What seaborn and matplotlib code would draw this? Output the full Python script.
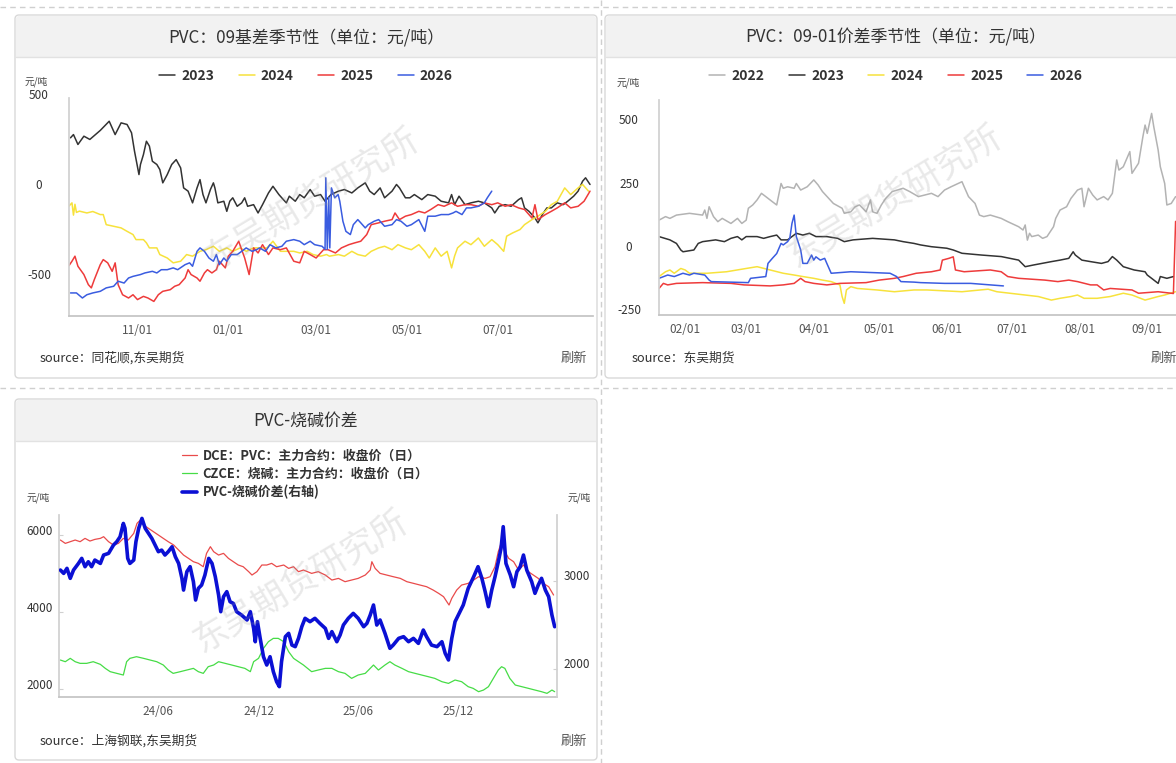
import numpy as np
import pandas as pd
import matplotlib
matplotlib.use("Agg")
import matplotlib.pyplot as plt
import matplotlib.transforms as mtransforms
from matplotlib.patches import FancyBboxPatch, Rectangle
import seaborn as sns

sns.set_theme(style="white")
plt.rcParams["font.family"] = ["Noto Sans CJK SC", "DejaVu Sans"]
plt.rcParams["axes.unicode_minus"] = False

W, H = 1176, 763

# ---------------- panel 1: PVC 09 basis seasonality (days from 09-16) ----------------
b23_day = [1, 3, 6, 10, 14, 21, 27, 31, 35, 39, 42, 44, 47, 48, 50, 52, 54, 56, 59, 61,
           63, 66, 69, 72, 75, 77, 80, 83, 86, 88, 90, 92, 95, 97, 98, 100, 104, 106, 108, 110,
           113, 116, 118, 120, 124, 127, 130, 134, 137, 141, 144, 146, 148, 152, 155, 158, 162, 165, 169, 172,
           176, 181, 185, 190, 194, 199, 202, 205, 209, 212, 217, 220, 222, 226, 229, 232, 237, 241, 246, 250,
           255, 257, 259, 262, 266, 270, 275, 279, 284, 286, 289, 293, 297, 302, 304, 306, 309, 313, 315, 318,
           321, 324, 328, 332, 335, 339, 342, 345, 347, 350]
b23 = [289, 307, 252, 298, 280, 330, 381, 307, 372, 363, 317, 215, 85, 141, 196, 270, 243, 159, 141, 113,
       39, 85, 141, 168, 122, 11, -7, -72, 11, 57, -26, -72, 2, 39, 11, -72, -63, -119, -63, -44,
       -91, -72, -44, -91, -82, -128, -82, -17, 20, -26, -54, -72, -35, -63, -26, -44, 2, -35, -26, -63,
       -26, -7, 2, -17, 11, 39, -7, -26, 11, -44, -7, 30, 11, -44, -44, -26, -54, -26, -35, -63,
       -72, -26, -82, -35, -82, -72, -63, -72, -100, -128, -91, -82, -91, -54, -44, -100, -119, -156, -183, -137,
       -100, -100, -72, -82, -63, -35, -7, 48, 67, 30]
b24_day = [0, 2, 3, 4, 5, 7, 12, 16, 21, 23, 25, 30, 35, 39, 43, 45, 50, 52, 54, 59,
           61, 66, 70, 75, 79, 83, 88, 92, 97, 101, 106, 110, 115, 119, 124, 128, 133, 137, 142, 146,
           151, 155, 160, 164, 169, 173, 175, 181, 185, 190, 194, 199, 203, 208, 212, 217, 221, 226, 230, 235,
           239, 242, 246, 250, 254, 257, 259, 261, 266, 270, 275, 279, 284, 288, 292, 294, 298, 303, 306, 311,
           315, 320, 324, 328, 333, 337, 342, 345, 349]
b24 = [-90, -72, -140, -80, -125, -118, -128, -120, -137, -137, -193, -202, -211, -230, -248, -276, -276, -294, -322, -322,
       -359, -378, -405, -396, -359, -368, -341, -332, -313, -341, -322, -341, -322, -341, -322, -322, -322, -285, -341, -341,
       -341, -350, -341, -359, -368, -359, -368, -359, -368, -341, -359, -368, -341, -322, -313, -332, -304, -322, -332, -304,
       -341, -378, -322, -368, -341, -433, -368, -322, -285, -304, -267, -313, -276, -304, -341, -257, -239, -220, -193, -165,
       -146, -119, -82, -63, 11, -26, 11, 30, -7]
b25_day = [0, 2, 4, 6, 10, 13, 15, 17, 21, 23, 26, 29, 31, 33, 36, 40, 43, 46, 50, 53,
           57, 60, 63, 68, 71, 74, 78, 80, 82, 86, 88, 91, 93, 96, 99, 101, 105, 107, 110, 114,
           116, 118, 121, 124, 127, 130, 134, 137, 142, 146, 151, 155, 158, 162, 166, 171, 174, 179, 183, 188,
           192, 196, 200, 203, 208, 212, 217, 219, 222, 226, 230, 235, 239, 243, 248, 252, 257, 261, 266, 270,
           275, 279, 284, 288, 293, 297, 302, 306, 311, 313, 315, 320, 324, 328, 333, 337, 342, 346, 350]
b25 = [-420, -396, -368, -424, -470, -526, -544, -498, -415, -387, -405, -452, -405, -526, -582, -600, -582, -609, -591, -600,
       -619, -582, -563, -554, -535, -526, -489, -443, -470, -489, -507, -461, -443, -461, -443, -396, -433, -368, -341, -285,
       -332, -378, -470, -322, -350, -304, -359, -322, -332, -322, -396, -405, -341, -359, -378, -332, -332, -350, -322, -304,
       -294, -285, -248, -193, -183, -174, -165, -128, -165, -146, -137, -119, -128, -109, -82, -91, -72, -91, -82, -82,
       -91, -72, -82, -72, -91, -82, -100, -109, -156, -82, -165, -137, -119, -100, -72, -100, -91, -63, -7]
b26_day = [1, 5, 9, 12, 16, 21, 25, 30, 33, 37, 40, 43, 48, 51, 56, 59, 62, 66, 70, 73,
           78, 81, 83, 86, 88, 91, 94, 97, 99, 101, 104, 106, 109, 113, 116, 119, 123, 126, 128, 132,
           135, 139, 143, 146, 151, 155, 158, 162, 165, 170, 172, 172.5, 173.5, 174.5, 175.2, 176.3, 178.5, 180.8, 181.9, 184,
           186, 189, 191, 194, 196, 199, 201, 205, 208, 212, 217, 220, 223, 227, 230, 235, 239, 241, 246, 250,
           255, 258, 260, 264, 267, 270, 275, 279, 281, 284]
b26 = [-572, -572, -600, -582, -572, -563, -544, -535, -507, -517, -489, -480, -470, -461, -452, -461, -443, -443, -433, -443,
       -415, -405, -424, -341, -322, -341, -378, -396, -359, -415, -378, -396, -359, -359, -341, -322, -341, -332, -322, -341,
       -304, -322, -313, -285, -276, -285, -304, -285, -304, -313, -330, 67, -330, -40, -322, 11, -44, -26, -63, -174,
       -230, -248, -193, -165, -183, -211, -193, -174, -165, -202, -193, -165, -174, -202, -193, -165, -230, -146, -146, -137,
       -137, -128, -119, -137, -100, -100, -91, -72, -44, -7]
basis_ticks = ["11/01", "01/01", "03/01", "05/01", "07/01"]

# ---------------- panel 2: PVC 09-01 spread seasonality (day of year) ----------------
sp22_day = [19, 22, 24, 27, 33, 39, 40, 41, 42, 44, 46, 48, 52, 55, 57, 59, 60, 62, 64, 66,
            68, 71, 73, 75, 76, 78, 81, 82, 84, 87, 90, 92, 94, 99, 103, 104, 107, 109, 111, 114,
            116, 117, 119, 121, 123, 126, 131, 134, 138, 144, 147, 150, 153, 158, 159, 161, 164, 166, 168, 171,
            176, 179, 184, 186, 187, 188, 189, 190, 193, 195, 197, 200, 201, 203, 206, 208, 211, 213, 214, 216,
            218, 220, 223, 225, 227, 229, 230, 232, 235, 236, 239, 241, 242, 243, 245, 246, 248, 249, 251, 252,
            254, 256]
sp22 = [125, 139, 132, 145, 152, 145, 165, 132, 178, 139, 119, 132, 112, 132, 112, 125, 172, 185, 205, 231,
        218, 198, 185, 270, 251, 257, 251, 270, 244, 257, 284, 264, 238, 191, 172, 152, 158, 178, 185, 158,
        205, 158, 152, 185, 211, 238, 251, 238, 218, 231, 218, 244, 257, 277, 257, 218, 191, 145, 139, 145,
        132, 119, 99, 86, 106, 46, 73, 60, 66, 53, 60, 99, 132, 165, 178, 211, 244, 251, 178, 251,
        224, 205, 218, 205, 231, 363, 323, 336, 396, 310, 350, 455, 501, 468, 547, 494, 402, 336, 270, 185,
        191, 218]
sp23_day = [19, 24, 27, 29, 30, 35, 37, 39, 45, 49, 52, 55, 57, 59, 64, 67, 70, 73, 75, 78,
            82, 85, 88, 91, 96, 101, 104, 108, 117, 127, 131, 136, 139, 144, 151, 154, 158, 167, 176, 180,
            184, 187, 191, 199, 203, 207, 209, 210, 213, 217, 222, 225, 227, 229, 232, 237, 242, 243, 245, 248,
            249, 252, 255]
sp23 = [60, 47, 33, 7, 0, 7, 33, 40, 47, 40, 53, 60, 47, 60, 60, 53, 60, 66, 47, 47,
        73, 66, 73, 60, 60, 53, 40, 47, 53, 47, 40, 33, 27, 20, 14, 7, -6, -13, -19, -26,
        -33, -59, -52, -39, -33, -26, 0, -13, -33, -39, -46, -39, -19, -33, -59, -72, -79, -92, -105, -125,
        -98, -105, -98]
sp24_day = [19, 22, 24, 26, 29, 31, 33, 41, 50, 59, 64, 70, 76, 81, 85, 90, 94, 98, 102, 103,
            104, 105, 107, 110, 119, 127, 136, 142, 158, 170, 174, 180, 187, 193, 199, 203, 208, 211, 214, 220,
            226, 232, 236, 242, 245, 248, 251, 256]
sp24 = [-98, -79, -72, -85, -66, -72, -85, -85, -79, -66, -59, -72, -85, -92, -98, -105, -112, -118, -131, -177,
        -204, -151, -138, -145, -151, -158, -151, -151, -158, -148, -158, -164, -171, -177, -191, -184, -177, -171, -184, -184,
        -177, -164, -171, -191, -184, -177, -171, -158]
sp25_day = [19, 21, 23, 27, 39, 52, 58, 70, 76, 81, 84, 86, 90, 96, 102, 114, 120, 127, 131, 137,
            144, 148, 149, 152, 154, 155, 159, 171, 176, 179, 184, 196, 202, 207, 211, 217, 220, 223, 226, 236,
            239, 248, 254, 255, 256]
sp25 = [-145, -125, -131, -125, -122, -125, -131, -135, -131, -125, -105, -118, -125, -131, -125, -122, -112, -105, -98, -85,
        -79, -72, -33, -26, -20, -72, -79, -72, -79, -98, -105, -112, -118, -112, -118, -131, -131, -151, -145, -151,
        -164, -158, -164, -165, 120]
sp26_day = [19, 23, 26, 30, 33, 35, 40, 42, 43, 60, 61, 68, 69, 71, 73, 75, 76, 78, 79, 80,
            81, 82, 84, 85, 87, 89, 90, 91, 93, 95, 96, 98, 107, 125, 128, 130, 136, 139, 150, 162,
            168, 177]
sp26 = [-105, -92, -98, -85, -92, -85, -92, -112, -118, -122, -105, -98, -46, -26, -7, 33, 27, 40, 53, 112,
        145, 60, 7, -46, -46, -13, -33, -20, -33, -26, -46, -85, -79, -85, -98, -118, -120, -122, -125, -125,
        -129, -135]
spread_ticks = ["02/01", "03/01", "04/01", "05/01", "06/01", "07/01", "08/01", "09/01"]

# ---------------- panel 3: PVC vs caustic soda (days from 2023-12-03) ----------------
pc_start = pd.Timestamp("2023-12-03")
pvc_day = [2, 11, 20, 29, 38, 47, 56, 65, 75, 81, 90, 99, 108, 117, 126, 136, 142, 148, 154, 163,
           172, 181, 190, 199, 209, 218, 227, 236, 245, 254, 263, 269, 276, 282, 291, 300, 309, 318, 327, 336,
           346, 352, 361, 370, 379, 388, 397, 410, 419, 428, 437, 446, 461, 473, 486, 498, 510, 522, 534, 546,
           559, 568, 571, 577, 586, 598, 610, 623, 635, 647, 659, 671, 683, 693, 702, 708, 712, 717, 726, 735,
           747, 757, 766, 778, 787, 796, 802, 808, 814, 821, 830, 839, 848, 857, 866, 875, 884, 894, 903]
pvc_close = [5878, 5791, 5835, 5878, 5835, 5921, 5852, 5895, 5921, 5965, 5835, 5748, 5791, 5921, 5878, 6051, 6311, 6397, 6268, 6181,
             6094, 6008, 5921, 5835, 5748, 5618, 5488, 5402, 5315, 5272, 5185, 5532, 5705, 5575, 5488, 5532, 5402, 5315, 5229, 5185,
             5056, 4969, 5056, 5229, 5229, 5272, 5185, 5229, 5142, 5185, 5056, 5099, 5012, 5056, 4969, 4839, 4882, 4796, 4839, 4882,
             4969, 5099, 5315, 5142, 5012, 4969, 4926, 4882, 4796, 4753, 4709, 4666, 4579, 4493, 4406, 4276, 4190, 4363, 4579, 4709,
             4753, 4839, 4926, 4882, 4926, 5185, 5575, 5835, 5575, 5402, 5315, 5099, 5229, 5056, 4969, 4882, 4753, 4666, 4450]
naoh_day = [2, 11, 20, 29, 38, 50, 62, 75, 84, 93, 105, 117, 123, 129, 141, 154, 166, 178, 190, 199,
            208, 221, 233, 245, 254, 263, 272, 282, 291, 303, 315, 327, 339, 349, 355, 364, 373, 382, 391, 400,
            410, 419, 428, 437, 446, 461, 473, 486, 498, 510, 522, 534, 546, 559, 568, 574, 583, 595, 604, 613,
            626, 638, 650, 662, 674, 686, 699, 711, 723, 735, 747, 756, 766, 775, 784, 793, 802, 808, 814, 823,
            833, 845, 857, 869, 881, 891, 900, 905]
naoh_close = [2761, 2718, 2805, 2718, 2675, 2675, 2718, 2649, 2545, 2459, 2415, 2372, 2718, 2805, 2848, 2805, 2761, 2718, 2632, 2502,
              2415, 2459, 2502, 2545, 2459, 2415, 2588, 2632, 2718, 2675, 2632, 2588, 2545, 2459, 2718, 2805, 3064, 3238, 3324, 3324,
              3238, 2978, 2805, 2718, 2632, 2459, 2502, 2545, 2545, 2459, 2415, 2285, 2372, 2415, 2545, 2632, 2502, 2632, 2718, 2632,
              2545, 2459, 2415, 2372, 2329, 2285, 2199, 2155, 2242, 2199, 2069, 2026, 1939, 1982, 2069, 2285, 2502, 2588, 2545, 2285,
              2112, 2069, 2026, 1982, 1939, 1896, 1982, 1939]
gap_day = [2, 8, 14, 20, 26, 35, 41, 47, 53, 59, 65, 75, 81, 90, 99, 105, 111, 117, 120, 125,
           129, 136, 140, 145, 151, 157, 163, 169, 175, 181, 187, 193, 199, 206, 212, 218, 224, 227, 233, 239,
           245, 249, 254, 260, 266, 273, 279, 285, 291, 295, 300, 306, 312, 318, 324, 333, 343, 349, 355, 358,
           362, 367, 373, 379, 385, 391, 397, 402, 406, 413, 419, 425, 431, 437, 443, 449, 458, 467, 476, 486,
           492, 498, 507, 513, 519, 528, 537, 546, 556, 562, 568, 574, 580, 586, 595, 604, 610, 620, 629, 638,
           647, 656, 665, 671, 680, 690, 699, 705, 711, 717, 723, 729, 738, 747, 757, 765, 772, 778, 784, 790,
           796, 802, 807, 811, 816, 824, 830, 836, 842, 848, 854, 863, 869, 875, 881, 888, 894, 900, 905]
gap_value = [3125, 3087, 3144, 3031, 3125, 3200, 3257, 3163, 3219, 3163, 3238, 3200, 3295, 3314, 3408, 3446, 3502, 3653, 3597, 3257,
             3200, 3238, 3446, 3597, 3710, 3597, 3540, 3484, 3408, 3333, 3351, 3295, 3333, 3389, 3276, 3200, 3031, 2898, 3106, 3163,
             2993, 2785, 2917, 2955, 3068, 3257, 3200, 3049, 2842, 2653, 2823, 2880, 2766, 2747, 2653, 2615, 2559, 2653, 2464, 2313,
             2540, 2351, 2143, 2049, 2143, 1974, 1860, 1804, 2087, 2370, 2408, 2275, 2257, 2351, 2483, 2578, 2540, 2578, 2521, 2464,
             2351, 2427, 2313, 2389, 2502, 2578, 2634, 2578, 2483, 2521, 2615, 2729, 2502, 2559, 2408, 2238, 2275, 2351, 2370, 2313,
             2351, 2294, 2445, 2370, 2275, 2257, 2313, 2181, 2106, 2351, 2540, 2615, 2729, 2917, 3049, 3163, 3031, 2880, 2710, 2898,
             3049, 3219, 3370, 3616, 3200, 3068, 2936, 3106, 3163, 3295, 3125, 2993, 2861, 2955, 3031, 2898, 2823, 2615, 2483]
pc_ticks = ["24/06", "24/12", "25/06", "25/12"]
pc_tick_dates = ["2024-06-01", "2024-12-01", "2025-06-01", "2025-12-01"]

col = {"2022": "#b3b3b3", "2023": "#333333", "2024": "#f7e23c",
       "2025": "#ee3b3b", "2026": "#3a5ce0"}

fig = plt.figure(figsize=(W / 100, H / 100), dpi=100)


def fx(x):
    return x / W


def fy(y):
    return 1 - y / H


def px_axes(x0, y0, x1, y1):
    return fig.add_axes([x0 / W, 1 - y1 / H, (x1 - x0) / W, (y1 - y0) / H])


# background layer in pixel coordinates
bg = fig.add_axes([0, 0, 1, 1], zorder=-5)
bg.set_xlim(0, W)
bg.set_ylim(H, 0)
bg.axis("off")

dash = (0, (4, 3))
bg.plot([0, W], [7, 7], color="#cfcfcf", lw=1, ls=dash)
bg.plot([0, W], [388, 388], color="#cfcfcf", lw=1, ls=dash)
bg.plot([601, 601], [0, H], color="#cfcfcf", lw=1, ls=dash)


def panel(x0, y0, x1, y1, title):
    bg.add_patch(FancyBboxPatch((x0, y0), x1 - x0, y1 - y0,
                                boxstyle="round,pad=0,rounding_size=4",
                                fc="white", ec="#d9d9d9", lw=1))
    bg.add_patch(FancyBboxPatch((x0 + 1, y0 + 1), x1 - x0 - 2, 40,
                                boxstyle="round,pad=0,rounding_size=3",
                                fc="#f2f2f2", ec="none"))
    bg.add_patch(Rectangle((x0 + 1, y0 + 20), x1 - x0 - 2, 22, fc="#f2f2f2", ec="none"))
    bg.plot([x0 + 1, x1 - 1], [y0 + 42, y0 + 42], color="#e2e2e2", lw=1)
    bg.text((x0 + x1) / 2, y0 + 22, title, ha="center", va="center",
            fontsize=12.2, color="#333333")


panel(15, 15, 597, 378, "PVC：09基差季节性（单位：元/吨）")
panel(605, 15, 1187, 378, "PVC：09-01价差季节性（单位：元/吨）")
panel(15, 399, 597, 760, "PVC-烧碱价差")


def style_axes(ax, ypad):
    ax.set_facecolor("none")
    for s in ["top", "right"]:
        ax.spines[s].set_visible(False)
    ax.spines["left"].set_color("#d0d0d0")
    ax.spines["bottom"].set_color("#c4c4c4")
    ax.tick_params(axis="x", direction="in", length=6, width=0.8, color="#d0d0d0",
                   labelsize=8.5, labelcolor="#555555", pad=6)
    ax.tick_params(axis="y", direction="in", length=3, width=0.8, color="#d0d0d0",
                   labelsize=8.5, labelcolor="#333333", pad=ypad)
    ax.set_xlabel("")
    ax.set_ylabel("")
    ax.grid(False)


def lift_ylabels(ax, dy_px):
    off = mtransforms.ScaledTranslation(0, dy_px / 100, fig.dpi_scale_trans)
    for lab in ax.get_yticklabels():
        lab.set_ha("center")
        lab.set_transform(lab.get_transform() + off)


legend_kw = dict(frameon=False, prop={"size": 10, "weight": "bold"}, labelcolor="#333333",
                 handlelength=1.15, handletextpad=0.45, columnspacing=1.75)

# ---------------- panel 1 ----------------
ax1 = px_axes(69, 98, 593, 316)
for name, dd, vals in [("2023", b23_day, b23), ("2024", b24_day, b24),
                       ("2025", b25_day, b25), ("2026", b26_day, b26)]:
    sns.lineplot(x=dd, y=vals, ax=ax1, color=col[name], linewidth=1.1,
                 label=name, legend=False)
ax1.set_xlim(0, 352)
ax1.set_ylim(-700, 510)
ax1.set_yticks([-500, 0, 500])
ax1.set_yticklabels(["-500", "0", "500"])


def season1_offset(lbl):
    m, d = lbl.split("/")
    year = 2022 if int(m) >= 9 else 2023
    return (pd.Timestamp(f"{year}-{m}-{d}") - pd.Timestamp("2022-09-16")).days


ax1.set_xticks([season1_offset(t) for t in basis_ticks])
ax1.set_xticklabels(basis_ticks)
style_axes(ax1, 21.6)
lift_ylabels(ax1, 6)

h, l = ax1.get_legend_handles_labels()
fig.legend(h, l, loc="center", bbox_to_anchor=(fx(306), fy(76)), ncol=4, **legend_kw)
fig.text(fx(36), fy(82), "元/吨", fontsize=7, color="#444444", ha="center", va="center")
fig.text(fx(40), fy(358), "source：同花顺,东吴期货", fontsize=9.2, color="#333333", va="center")
fig.text(fx(587), fy(358), "刷新", fontsize=9.5, color="#555555", ha="right", va="center")

# ---------------- panel 2 ----------------
ax2 = px_axes(659, 100, 1183, 315)
for name, dd, vals in [("2022", sp22_day, sp22), ("2023", sp23_day, sp23),
                       ("2024", sp24_day, sp24), ("2025", sp25_day, sp25),
                       ("2026", sp26_day, sp26)]:
    sns.lineplot(x=dd, y=vals, ax=ax2, color=col[name], linewidth=1.1,
                 label=name, legend=False)
ax2.set_xlim(19, 259.4)
ax2.set_ylim(-250, 600)
ax2.set_yticks([-250, 0, 250, 500])
ax2.set_yticklabels(["-250", "0", "250", "500"])
ax2.set_xticks([(pd.Timestamp("2023-" + t.replace("/", "-")) - pd.Timestamp("2023-01-01")).days
                for t in spread_ticks])
ax2.set_xticklabels(spread_ticks)
style_axes(ax2, 21.6)
lift_ylabels(ax2, 6)

h, l = ax2.get_legend_handles_labels()
fig.legend(h, l, loc="center", bbox_to_anchor=(fx(896), fy(76)), ncol=5, **legend_kw)
fig.text(fx(628), fy(83), "元/吨", fontsize=7, color="#444444", ha="center", va="center")
fig.text(fx(632), fy(358), "source：东吴期货", fontsize=9.2, color="#333333", va="center")
fig.text(fx(1177), fy(358), "刷新", fontsize=9.5, color="#555555", ha="right", va="center")

# ---------------- panel 3 ----------------
ax3 = px_axes(59.3, 514.7, 556.7, 696.7)
ax3r = ax3.twinx()
pvc_dates = pc_start + pd.to_timedelta(pvc_day, unit="D")
naoh_dates = pc_start + pd.to_timedelta(naoh_day, unit="D")
gap_dates = pc_start + pd.to_timedelta(gap_day, unit="D")
sns.lineplot(x=pvc_dates, y=pvc_close, ax=ax3, color="#e94b4b", linewidth=0.9,
             label="DCE：PVC：主力合约：收盘价（日）", legend=False)
sns.lineplot(x=naoh_dates, y=naoh_close, ax=ax3, color="#46dc46", linewidth=0.9,
             label="CZCE：烧碱：主力合约：收盘价（日）", legend=False)
sns.lineplot(x=gap_dates, y=gap_value, ax=ax3r, color="#0b10d4", linewidth=2.6,
             label="PVC-烧碱价差(右轴)", legend=False)
xmin, xmax = pc_start, pc_start + pd.Timedelta(days=908.7)
ax3.set_xlim(xmin, xmax)
ax3.set_ylim(1809, 6536)
ax3r.set_ylim(1690, 3752)
ax3.set_yticks([2000, 4000, 6000])
ax3.set_yticklabels(["2000", "4000", "6000"])
ax3r.set_yticks([2000, 3000])
ax3r.set_yticklabels(["2000", "3000"])
ax3.set_xticks(pd.to_datetime(pc_tick_dates))
ax3.set_xticklabels(pc_ticks)
style_axes(ax3, 14)
ax3r.set_facecolor("none")
for s in ["top", "left", "bottom"]:
    ax3r.spines[s].set_visible(False)
ax3r.spines["right"].set_color("#d0d0d0")
ax3r.tick_params(axis="y", direction="in", length=3, width=0.8, color="#d0d0d0",
                 labelsize=8.5, labelcolor="#333333", pad=14.5)
ax3r.set_ylabel("")
ax3r.grid(False)
lift_ylabels(ax3, 5)
lift_ylabels(ax3r, 6)

h1, l1 = ax3.get_legend_handles_labels()
h2, l2 = ax3r.get_legend_handles_labels()
fig.legend(h1 + h2, l1 + l2, loc="center", bbox_to_anchor=(fx(305), fy(474)), ncol=1,
           frameon=False, prop={"size": 9.3, "weight": "bold"}, labelcolor="#333333",
           handlelength=1.15, handletextpad=0.45, labelspacing=0.3, borderpad=0)
fig.text(fx(38), fy(498), "元/吨", fontsize=7, color="#444444", ha="center", va="center")
fig.text(fx(579), fy(498), "元/吨", fontsize=7, color="#444444", ha="center", va="center")
fig.text(fx(40), fy(741), "source：上海钢联,东吴期货", fontsize=9.2, color="#333333", va="center")
fig.text(fx(587), fy(741), "刷新", fontsize=9.5, color="#555555", ha="right", va="center")

# watermarks
for cx, cy in [(312, 200), (895, 197), (301, 582)]:
    fig.text(fx(cx), fy(cy), "东吴期货研究所", fontsize=25, color="#9a9a9a", alpha=0.22,
             rotation=31, ha="center", va="center", rotation_mode="anchor", zorder=10)

fig.savefig("out.png", dpi=100)
